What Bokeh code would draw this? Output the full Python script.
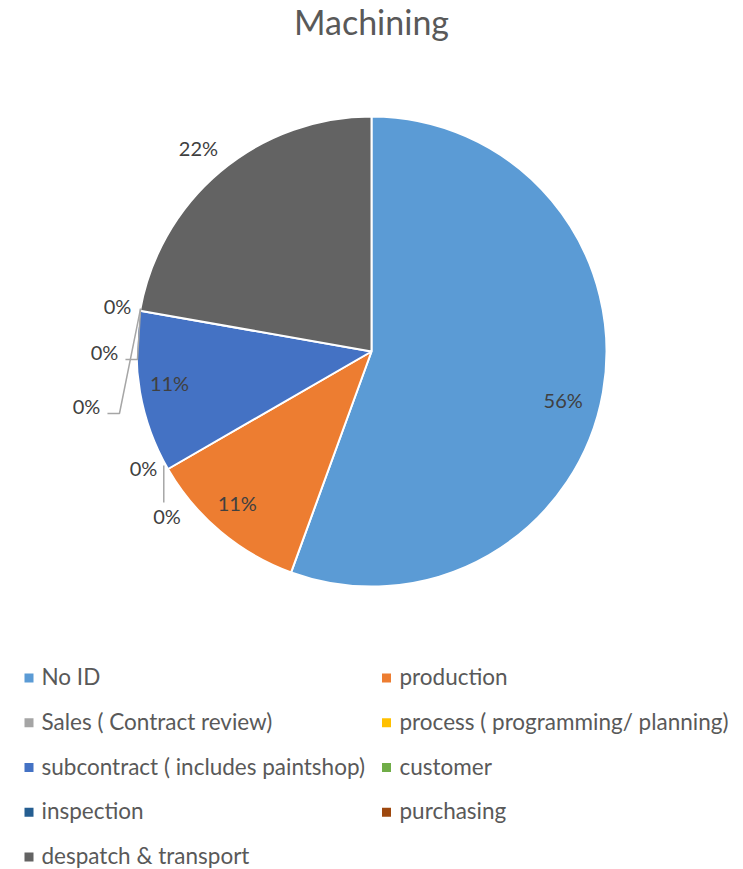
import math
from bokeh.plotting import figure
from bokeh.models import Range1d
from bokeh.core.properties import value
from bokeh.embed import file_html
from bokeh.resources import INLINE

# ---- data ----
categories = ["No ID", "production", "Sales ( Contract review)", "process ( programming/ planning)",
              "subcontract ( includes paintshop)", "customer", "inspection", "purchasing",
              "despatch & transport"]
counts = [5, 1, 0, 0, 1, 0, 0, 0, 2]
colors = ["#5B9BD5", "#ED7D31", "#A5A5A5", "#FFC000", "#4472C4", "#70AD47", "#255E91", "#9E480E", "#636363"]
title_text = "Machining"

# ---- layout ----
W, H = 743, 869
FONT = "Lato"
CX, CY, R = 371, 351, 235  # screen px
LABEL_R_IN = 200
LABEL_R_OUT = 267
# small best-fit nudges for non-zero slice labels (screen px)
label_nudge = {0: (-5.3, 13.8), 1: (-5.7, -2.2), 4: (-5.0, -3.7), 8: (-1.4, 1.5)}


def sy(s):
    return H - s


p = figure(width=W, height=H, x_range=Range1d(0, W), y_range=Range1d(0, H),
           output_backend="svg", toolbar_location=None, min_border=0)
p.axis.visible = False
p.grid.visible = False
p.outline_line_color = None
p.background_fill_color = "white"

total = sum(counts)
cum = [0.0]
for c in counts:
    cum.append(cum[-1] + c / total * 360.0)

# wedges (clockwise from 12 o'clock)
for i, c in enumerate(counts):
    if c == 0:
        continue
    a0, a1 = cum[i], cum[i + 1]
    p.wedge(x=CX, y=sy(CY), radius=R, radius_units="screen",
            start_angle=math.radians(90 - a1), end_angle=math.radians(90 - a0),
            fill_color=colors[i], line_color="white", line_width=2)


def edge_point(theta):
    return CX + R * math.sin(math.radians(theta)), CY - R * math.cos(math.radians(theta))


LBL_SIZE = "20px"
# labels for non-zero slices
for i, c in enumerate(counts):
    if c == 0:
        continue
    mid = (cum[i] + cum[i + 1]) / 2
    pct = f"{round(c / total * 100):d}%"
    r = LABEL_R_OUT if i == len(counts) - 1 else LABEL_R_IN
    nx, ny = label_nudge.get(i, (0, 0))
    lx = CX + r * math.sin(math.radians(mid)) + nx
    ly = CY - r * math.cos(math.radians(mid)) + ny
    p.text(x=[lx], y=[sy(ly)], text=[pct], text_font=value(FONT), text_font_size=LBL_SIZE,
           text_color="#404040", text_align="center", text_baseline="middle")

# zero-slice labels with leader lines (offsets relative to slice anchor on the rim)
zero_layout = {
    2: ((-24.5, -1.0), None),
    3: ((-1.0, 47.0), [(-4.2, -3.5), (-4.2, 33.5)]),
    5: ((-22.6, -4.2), None),
    6: ((-35.6, 41.8), [(0.5, -2.0), (-2.6, 48.8), (-14.6, 48.8)]),
    7: ((-53.6, 95.8), [(0.5, -2.0), (-20.6, 102.8), (-32.6, 102.8)]),
}
for i, c in enumerate(counts):
    if c != 0:
        continue
    ax, ay = edge_point(cum[i])
    (ox, oy), leader = zero_layout[i]
    pct = f"{round(c / total * 100):d}%"
    if leader:
        p.line(x=[ax + dx for dx, dy in leader], y=[sy(ay + dy) for dx, dy in leader],
               line_color="#A6A6A6", line_width=1.5)
    p.text(x=[ax + ox], y=[sy(ay + oy)], text=[pct], text_font=value(FONT), text_font_size=LBL_SIZE,
           text_color="#404040", text_align="center", text_baseline="middle")

# title
p.text(x=[CX], y=[sy(21)], text=[title_text], text_font=value(FONT), text_font_size="34px",
       text_color="#595959", text_align="center", text_baseline="middle")

# legend (two columns, row-major)
col_sq_x = [28.5, 386]
col_tx_x = [41, 399]
row0 = 677.5
row_gap = 44.75
for i, name in enumerate(categories):
    row, col = divmod(i, 2)
    yc = row0 + row * row_gap
    p.rect(x=[col_sq_x[col]], y=[sy(yc)], width=9, height=9, width_units="screen", height_units="screen",
           fill_color=colors[i], line_color=None)
    p.text(x=[col_tx_x[col]], y=[sy(yc - 1.5)], text=[name], text_font=value(FONT), text_font_size="22.5px",
           text_color="#595959", text_align="left", text_baseline="middle")

open("out.html", "w").write(file_html(p, INLINE))
